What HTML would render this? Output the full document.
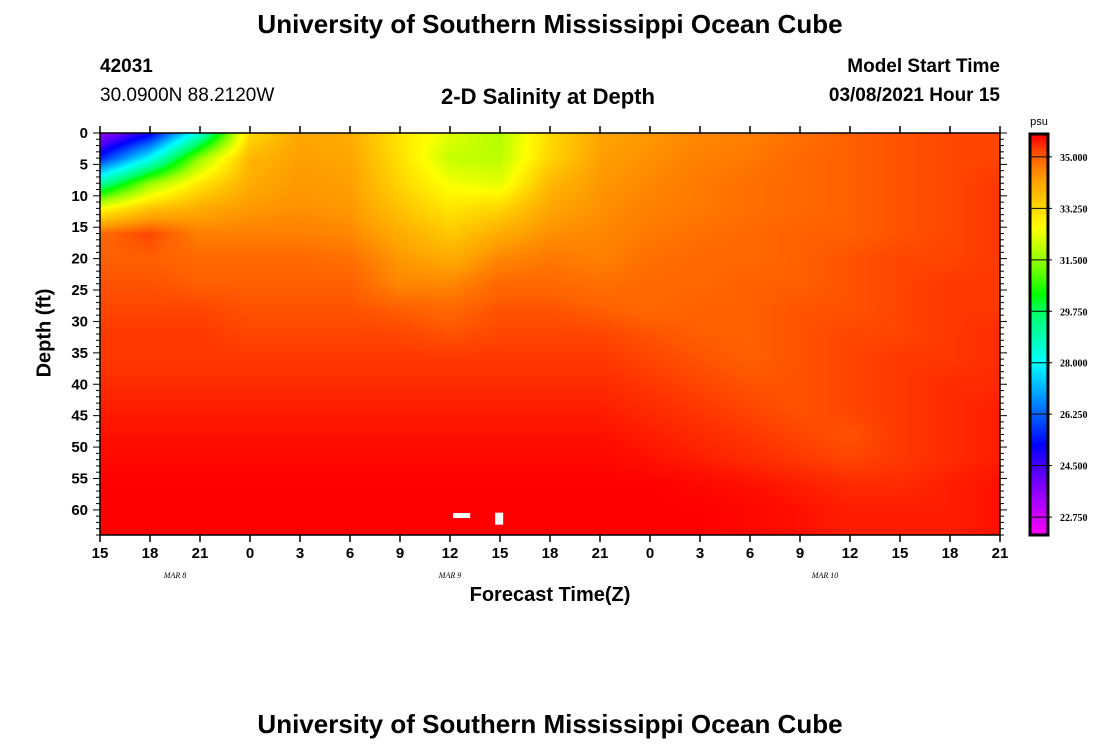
<!DOCTYPE html>
<html><head><meta charset="utf-8">
<style>
body{margin:0;background:#fff;width:1100px;height:750px;overflow:hidden;position:relative;font-family:"Liberation Sans",sans-serif;}
.t{position:absolute;white-space:nowrap;color:#000;}
.b{font-weight:bold;}
</style></head>
<body>
<div class="t b" style="left:0;width:1100px;text-align:center;top:9px;font-size:26px;">University of Southern Mississippi Ocean Cube</div>
<div class="t b" style="left:100px;top:56px;font-size:19px;">42031</div>
<div class="t" style="left:100px;top:85px;font-size:19px;">30.0900N 88.2120W</div>
<div class="t b" style="left:348px;width:400px;text-align:center;top:84px;font-size:22px;">2-D Salinity at Depth</div>
<div class="t b" style="right:100px;top:56px;font-size:19px;">Model Start Time</div>
<div class="t b" style="right:100px;top:85px;font-size:19px;">03/08/2021 Hour 15</div>
<div class="t b" style="left:45px;top:333px;font-size:20px;transform:translate(-50%,-50%) rotate(-90deg);">Depth (ft)</div>
<div class="t b" style="left:350px;width:400px;text-align:center;top:584px;font-size:20px;">Forecast Time(Z)</div>
<div class="t b" style="left:0;width:1100px;text-align:center;top:709px;font-size:26px;">University of Southern Mississippi Ocean Cube</div>
<canvas id="hm" width="900" height="402" style="position:absolute;left:100px;top:133px;"></canvas>
<svg id="ov" width="1100" height="750" style="position:absolute;left:0;top:0;"></svg>
<script>
const times=[15,18,21,0,3,6,9,12,15,18,21,0,3,6,9,12,15,18,21];
const depths=[0,4,8,12,16,20,24,28,32,36,40,44,48,52,56,60,64];
const depthTicks=[0,5,10,15,20,25,30,35,40,45,50,55,60];
const dayLabels=["MAR  8","MAR  9","MAR  10"];
const dayLabelHours=[4.5,21,43.5];
const cbTicks=[35.000,33.250,31.500,29.750,28.000,26.250,24.500,22.750];
const s0 =[23.4,25.0,28.5,33.2,34.1,34.0,33.0,32.3,31.8,33.2,34.1,34.3,34.5,34.6,34.8,35.0,35.1,35.2,35.2];
const s4 =[25.5,28.0,31.5,33.8,34.2,34.1,33.1,32.0,31.9,33.3,34.2,34.4,34.6,34.7,34.9,35.0,35.1,35.2,35.2];
const s8 =[29.0,31.5,33.0,34.0,34.3,34.2,33.3,32.5,32.3,33.8,34.3,34.5,34.7,34.8,34.9,35.0,35.1,35.2,35.3];
const s12=[32.6,33.6,34.0,34.3,34.4,34.3,33.6,33.0,33.3,34.1,34.4,34.6,34.7,34.8,34.9,35.0,35.1,35.2,35.3];
const s16=[34.9,35.2,34.6,34.6,34.6,34.5,34.0,33.5,34.0,34.4,34.5,34.7,34.8,34.9,35.0,35.0,35.1,35.2,35.3];
const s20=[35.0,35.0,34.9,34.9,34.9,34.8,34.3,34.0,34.5,34.7,34.6,34.8,34.9,34.9,35.0,35.1,35.2,35.2,35.3];
const s24=[35.1,35.1,35.0,35.0,35.0,35.0,34.5,34.5,34.9,34.9,34.8,34.9,34.9,35.0,35.0,35.1,35.2,35.3,35.3];
const s28=[35.2,35.2,35.2,35.1,35.1,35.1,35.0,34.9,35.1,35.1,35.0,34.9,35.0,35.0,35.1,35.1,35.2,35.3,35.3];
const s32=[35.3,35.3,35.3,35.2,35.2,35.2,35.2,35.1,35.2,35.2,35.2,35.1,35.0,35.0,35.1,35.2,35.2,35.3,35.4];
const s36=[35.3,35.3,35.3,35.3,35.3,35.3,35.3,35.3,35.3,35.3,35.3,35.2,35.1,35.0,35.1,35.2,35.3,35.3,35.4];
const s40=[35.4,35.4,35.4,35.4,35.4,35.4,35.4,35.4,35.4,35.4,35.4,35.3,35.2,35.1,35.1,35.2,35.3,35.4,35.4];
const s44=[35.5,35.5,35.5,35.5,35.5,35.5,35.5,35.5,35.5,35.5,35.5,35.4,35.3,35.2,35.1,35.2,35.3,35.4,35.5];
const s48=[35.6,35.6,35.6,35.6,35.6,35.6,35.6,35.6,35.6,35.6,35.6,35.5,35.4,35.3,35.2,35.1,35.3,35.4,35.5];
const s52=[35.7,35.7,35.7,35.7,35.7,35.7,35.7,35.7,35.7,35.7,35.7,35.6,35.5,35.4,35.3,35.2,35.3,35.4,35.5];
const s56=[35.8,35.8,35.8,35.8,35.8,35.8,35.8,35.8,35.8,35.8,35.8,35.8,35.7,35.6,35.5,35.4,35.4,35.5,35.6];
const s60=[35.8,35.8,35.8,35.8,35.8,35.8,35.8,35.8,35.8,35.8,35.8,35.8,35.8,35.7,35.6,35.5,35.5,35.5,35.6];
const s64=[35.8,35.8,35.8,35.8,35.8,35.8,35.8,35.8,35.8,35.8,35.8,35.8,35.8,35.7,35.6,35.5,35.5,35.5,35.6];
const grid=[s0,s4,s8,s12,s16,s20,s24,s28,s32,s36,s40,s44,s48,s52,s56,s60,s64];
const missingHours=[21.7,23.95];
const missingDepths=[60.9,61.4];

const X0=100,X1=1000,Y0=133,Y1=535,HMAX=54,DMAX=64;
const xs=h=>X0+(h/HMAX)*(X1-X0);
const ys=d=>Y0+(d/DMAX)*(Y1-Y0);
const CBX=1030,CBW=18,CBY0=134,CBY1=535,VTOP=35.78,VBOT=22.14;
const cy=v=>CBY0+(VTOP-v)/(VTOP-VBOT)*(CBY1-CBY0);
const stops=[[22.1,[255,0,255]],[23.0,[190,0,255]],[24.5,[70,0,255]],[25.2,[0,0,255]],[26.25,[0,100,255]],[28,[0,255,255]],[29.75,[0,255,100]],[30.3,[0,255,0]],[31.5,[150,255,0]],[32.6,[255,255,0]],[33.25,[255,216,0]],[34.2,[255,160,0]],[35.0,[255,96,0]],[35.3,[255,56,0]],[35.6,[255,16,0]],[35.8,[255,0,0]]];
function col(v){
  if(v<=stops[0][0])return stops[0][1];
  for(let i=1;i<stops.length;i++){if(v<=stops[i][0]){const a=stops[i-1],b=stops[i];const f=(v-a[0])/(b[0]-a[0]);return a[1].map((c,k)=>Math.round(c+(b[1][k]-c)*f));}}
  return stops[stops.length-1][1];
}
const cv=document.getElementById('hm'),ctx=cv.getContext('2d');
const img=ctx.createImageData(900,402);
for(let py=0;py<402;py++){
  const d=(py+0.5)/402*DMAX;let r=0;while(r<depths.length-2&&d>depths[r+1])r++;
  const fy=Math.min(1,Math.max(0,(d-depths[r])/(depths[r+1]-depths[r])));
  for(let px=0;px<900;px++){
    const h=(px+0.5)/900*HMAX;let c=Math.min(17,Math.floor(h/3));const fx=(h-c*3)/3;
    const v=(grid[r][c]*(1-fx)+grid[r][c+1]*fx)*(1-fy)+(grid[r+1][c]*(1-fx)+grid[r+1][c+1]*fx)*fy;
    const k=col(v);const o=(py*900+px)*4;img.data[o]=k[0];img.data[o+1]=k[1];img.data[o+2]=k[2];img.data[o+3]=255;
  }
}
ctx.putImageData(img,0,0);

const svg=document.getElementById('ov');const NS='http://www.w3.org/2000/svg';
function el(t,a,p){const e=document.createElementNS(NS,t);for(const k in a)e.setAttribute(k,a[k]);(p||svg).appendChild(e);return e;}
missingHours.forEach((h,i)=>{
  const w=i===0?17:8,hh=i===0?5:12;
  const r=el('rect',{x:xs(h)-w/2,y:ys(missingDepths[i])-hh/2,width:w,height:hh,fill:'#fff'});
  
  
});
let e=el('rect',{x:X0,y:Y0,width:X1-X0,height:Y1-Y0,fill:'none',stroke:'#000','stroke-width':1.5});


for(let d=0;d<=DMAX;d++){
  const L=d%5===0?7:4;
  el('line',{x1:X0-L,x2:X0,y1:ys(d),y2:ys(d),stroke:'#000'});
  el('line',{x1:X1,x2:X1+L,y1:ys(d),y2:ys(d),stroke:'#000'});
}
depthTicks.forEach(d=>{
  const t=el('text',{x:X0-12,y:ys(d)+5,'text-anchor':'end','font-size':15,'font-weight':'bold','font-family':'Liberation Sans, sans-serif'});
  t.textContent=d;
  
  
});
times.forEach((tm,i)=>{
  const x=xs(i*3);
  el('line',{x1:x,x2:x,y1:Y1,y2:Y1+7,stroke:'#000','stroke-width':1.5});
  el('line',{x1:x,x2:x,y1:Y0-7,y2:Y0,stroke:'#000','stroke-width':1.5});
  const t=el('text',{x:x,y:558,'text-anchor':'middle','font-size':15,'font-weight':'bold','font-family':'Liberation Sans, sans-serif'});
  t.textContent=tm;
  
  
});
dayLabels.forEach((s,i)=>{
  const t=el('text',{x:xs(dayLabelHours[i]),y:578,'text-anchor':'middle','font-size':8,'font-style':'italic','font-family':'Liberation Serif, serif'});
  t.textContent=s;
  
  
});
const N=200;
for(let i=0;i<N;i++){
  const v=VTOP-(i+0.5)/N*(VTOP-VBOT);const k=col(v);
  const r=el('rect',{x:CBX,y:CBY0+i*(CBY1-CBY0)/N,width:CBW,height:(CBY1-CBY0)/N+0.6,fill:'rgb('+k.join(',')+')'});
  
  
}
e=el('rect',{x:CBX,y:CBY0,width:CBW,height:CBY1-CBY0,fill:'none',stroke:'#000','stroke-width':3});


cbTicks.forEach(v=>{
  el('line',{x1:CBX,x2:CBX+CBW+4,y1:cy(v),y2:cy(v),stroke:'#000'});
  const t=el('text',{x:CBX+30,y:cy(v)+4,'font-size':10,'font-weight':'bold','font-family':'Liberation Serif, serif'});
  t.textContent=v.toFixed(3);
  
  
});
e=el('text',{x:CBX+CBW/2,y:125,'text-anchor':'middle','font-size':11,'font-family':'Liberation Sans, sans-serif'});
e.textContent='psu';


</script>
</body></html>
